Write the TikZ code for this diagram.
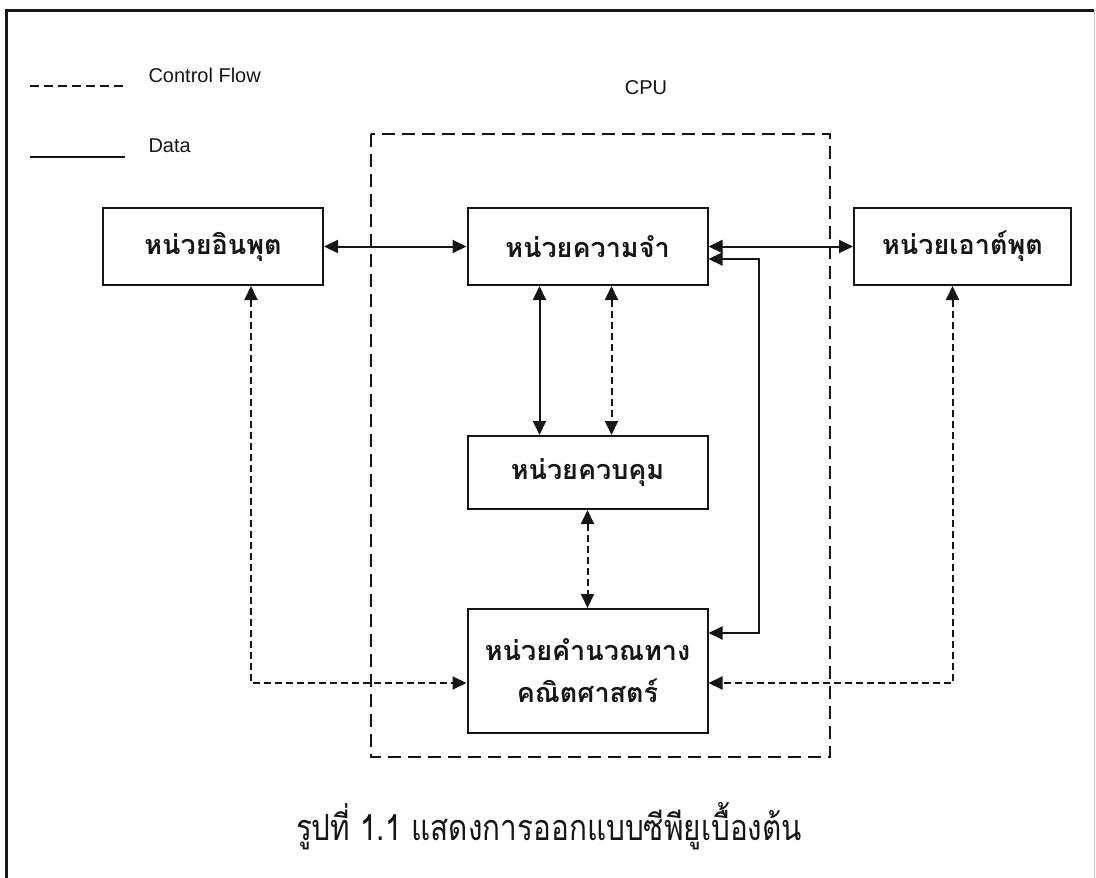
\documentclass[tikz,border=0pt]{standalone}
\usepackage{fontspec}
\setmainfont{Liberation Sans}
\newfontfamily\thaifont[Script=Thai]{Loma}
\usetikzlibrary{arrows.meta,calc}
\definecolor{inkblk}{RGB}{22,22,22}
\tikzset{
  unitbox/.style={draw=inkblk, line width=2pt, minimum width=240pt, minimum height=77pt,
    font=\thaifont\bfseries\fontsize{27}{42}\selectfont, text=inkblk},
  dataln/.style={line width=2pt, inkblk},
  ctrlln/.style={line width=2pt, inkblk, dash pattern=on 7pt off 4pt},
  cpuln/.style={line width=2pt, inkblk, dash pattern=on 13pt off 7pt},
  lgdtxt/.style={font=\fontsize{20}{24}\selectfont, text=inkblk},
}

\begin{document}
\begin{tikzpicture}[x=1pt, y=-1pt, >={Triangle[length=14pt,width=13pt]}]
    \useasboundingbox (0,0) rectangle (1096,878);
    % page frame
    \draw[line width=3pt, inkblk] (6,878) -- (6,10) -- (1094,10);
    \draw[line width=1pt, gray!45] (1094,10) -- (1094,878);
    % legend
    \draw[ctrlln, dash pattern=on 9pt off 5pt] (30,86) -- (125,86);
    \node[lgdtxt, anchor=west] (lgctrl) at (145,75) {Control Flow};
    \draw[dataln] (30,157) -- (125,157);
    \node[lgdtxt, anchor=west] (lgdata) at (145,146) {Data};
    % cpu boundary
    \draw[cpuln] (371,134) rectangle (830,757);
    \node[lgdtxt] (cpulab) at (646,88) {CPU};
    % units
    \node[unitbox, minimum width=220pt] (input) at (213,246.5) {หน่วยอินพุต};
    \node[unitbox] (memory) at (587.5,246.5) {หน่วยความจำ};
    \node[unitbox, minimum width=217pt] (output) at (962.5,246.5) {หน่วยเอาต์พุต};
    \node[unitbox, minimum height=73pt] (control) at (587.5,472.5) {หน่วยควบคุม};
    \node[unitbox, minimum height=124pt, align=center] (alu) at (587.5,671)
      {หน่วยคำนวณทาง\\คณิตศาสตร์};
    % data paths
    \draw[dataln, <->] (input) -- (memory);
    \draw[dataln, <->] (memory) -- (output);
    \draw[dataln, <->] ($(memory.south)+(-48,0)$) -- ($(control.north)+(-48,0)$);
    \draw[dataln, <->] ($(memory.east)+(0,12.5)$) -- ++(50,0) |- ($(alu.east)+(0,-38)$);
    % control paths
    \draw[ctrlln, <->] ($(memory.south)+(24,0)$) -- ($(control.north)+(24,0)$);
    \draw[ctrlln, <->] (control) -- (alu);
    \draw[ctrlln, <->] ($(input.south)+(38,0)$) |- ($(alu.west)+(0,12)$);
    \draw[ctrlln, <->] ($(output.south)+(-10,0)$) |- ($(alu.east)+(0,12)$);
    % caption
    \node[text=inkblk] (caption) at (549,826)
      {\scalebox{0.99}[1.2]{\thaifont\fontsize{30}{36}\selectfont รูปที่ 1.1 แสดงการออกแบบซีพียูเบื้องต้น}};
\end{tikzpicture}
\end{document}
